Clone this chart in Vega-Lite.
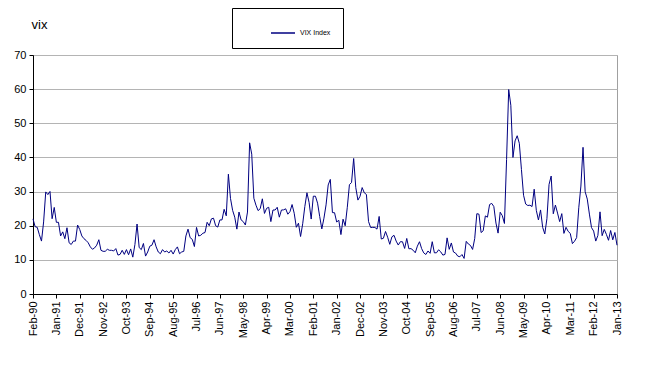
{
"$schema": "https://vega.github.io/schema/vega-lite/v6.json",
"width": 584, "height": 239,
"autosize": "none",
"padding": {"left": 33, "top": 55, "right": 28, "bottom": 82},
"background": "white",
"config": {"font": "Liberation Sans", "view": {"stroke": "#a0a0a0", "strokeWidth": 1}},
"data": {"values": [
{"m":"Feb-90","v":21.99},{"m":"Mar-90","v":19.73},{"m":"Apr-90","v":19.52},{"m":"May-90","v":17.37},{"m":"Jun-90","v":15.5},{"m":"Jul-90","v":21.11},{"m":"Aug-90","v":29.9},{"m":"Sep-90","v":29.11},{"m":"Oct-90","v":30.04},{"m":"Nov-90","v":22.05},{"m":"Dec-90","v":25.36},
{"m":"Jan-91","v":21.0},{"m":"Feb-91","v":21.0},{"m":"Mar-91","v":17.0},{"m":"Apr-91","v":18.2},{"m":"May-91","v":16.2},{"m":"Jun-91","v":19.4},{"m":"Jul-91","v":15.0},{"m":"Aug-91","v":14.5},{"m":"Sep-91","v":15.5},{"m":"Oct-91","v":15.5},{"m":"Nov-91","v":20.2},{"m":"Dec-91","v":18.9},
{"m":"Jan-92","v":17.0},{"m":"Feb-92","v":16.2},{"m":"Mar-92","v":15.7},{"m":"Apr-92","v":15.0},{"m":"May-92","v":13.8},{"m":"Jun-92","v":13.1},{"m":"Jul-92","v":13.5},{"m":"Aug-92","v":14.3},{"m":"Sep-92","v":15.9},{"m":"Oct-92","v":12.8},{"m":"Nov-92","v":12.5},{"m":"Dec-92","v":12.5},
{"m":"Jan-93","v":13.1},{"m":"Feb-93","v":12.8},{"m":"Mar-93","v":12.8},{"m":"Apr-93","v":12.6},{"m":"May-93","v":13.3},{"m":"Jun-93","v":11.4},{"m":"Jul-93","v":11.6},{"m":"Aug-93","v":12.8},{"m":"Sep-93","v":11.6},{"m":"Oct-93","v":13.0},{"m":"Nov-93","v":11.5},{"m":"Dec-93","v":13.2},
{"m":"Jan-94","v":10.8},{"m":"Feb-94","v":14.5},{"m":"Mar-94","v":20.5},{"m":"Apr-94","v":13.6},{"m":"May-94","v":13.0},{"m":"Jun-94","v":14.8},{"m":"Jul-94","v":11.1},{"m":"Aug-94","v":12.3},{"m":"Sep-94","v":14.0},{"m":"Oct-94","v":14.3},{"m":"Nov-94","v":15.9},{"m":"Dec-94","v":13.8},
{"m":"Jan-95","v":12.3},{"m":"Feb-95","v":11.8},{"m":"Mar-95","v":13.0},{"m":"Apr-95","v":12.3},{"m":"May-95","v":12.6},{"m":"Jun-95","v":12.0},{"m":"Jul-95","v":12.8},{"m":"Aug-95","v":11.7},{"m":"Sep-95","v":13.0},{"m":"Oct-95","v":13.8},{"m":"Nov-95","v":11.8},{"m":"Dec-95","v":12.3},
{"m":"Jan-96","v":12.5},{"m":"Feb-96","v":17.0},{"m":"Mar-96","v":19.0},{"m":"Apr-96","v":16.5},{"m":"May-96","v":16.0},{"m":"Jun-96","v":13.9},{"m":"Jul-96","v":19.5},{"m":"Aug-96","v":17.0},{"m":"Sep-96","v":17.2},{"m":"Oct-96","v":17.8},{"m":"Nov-96","v":18.0},{"m":"Dec-96","v":21.0},
{"m":"Jan-97","v":20.0},{"m":"Feb-97","v":22.0},{"m":"Mar-97","v":22.2},{"m":"Apr-97","v":20.0},{"m":"May-97","v":19.6},{"m":"Jun-97","v":21.7},{"m":"Jul-97","v":21.7},{"m":"Aug-97","v":24.8},{"m":"Sep-97","v":22.9},{"m":"Oct-97","v":35.09},{"m":"Nov-97","v":28.0},{"m":"Dec-97","v":24.5},
{"m":"Jan-98","v":22.5},{"m":"Feb-98","v":19.0},{"m":"Mar-98","v":24.0},{"m":"Apr-98","v":21.7},{"m":"May-98","v":21.2},{"m":"Jun-98","v":20.2},{"m":"Jul-98","v":24.0},{"m":"Aug-98","v":44.28},{"m":"Sep-98","v":40.95},{"m":"Oct-98","v":28.05},{"m":"Nov-98","v":26.01},{"m":"Dec-98","v":24.42},
{"m":"Jan-99","v":25.0},{"m":"Feb-99","v":27.88},{"m":"Mar-99","v":23.6},{"m":"Apr-99","v":25.1},{"m":"May-99","v":25.4},{"m":"Jun-99","v":21.2},{"m":"Jul-99","v":24.6},{"m":"Aug-99","v":24.6},{"m":"Sep-99","v":25.4},{"m":"Oct-99","v":22.5},{"m":"Nov-99","v":24.6},{"m":"Dec-99","v":24.64},
{"m":"Jan-00","v":24.95},{"m":"Feb-00","v":23.37},{"m":"Mar-00","v":24.11},{"m":"Apr-00","v":26.2},{"m":"May-00","v":23.65},{"m":"Jun-00","v":19.54},{"m":"Jul-00","v":20.74},{"m":"Aug-00","v":16.84},{"m":"Sep-00","v":20.57},{"m":"Oct-00","v":25.6},{"m":"Nov-00","v":29.65},{"m":"Dec-00","v":26.85},
{"m":"Jan-01","v":21.95},{"m":"Feb-01","v":28.64},{"m":"Mar-01","v":28.64},{"m":"Apr-01","v":26.6},{"m":"May-01","v":22.7},{"m":"Jun-01","v":19.06},{"m":"Jul-01","v":22.2},{"m":"Aug-01","v":26.1},{"m":"Sep-01","v":31.93},{"m":"Oct-01","v":33.56},{"m":"Nov-01","v":23.84},{"m":"Dec-01","v":23.8},
{"m":"Jan-02","v":21.09},{"m":"Feb-02","v":21.59},{"m":"Mar-02","v":17.4},{"m":"Apr-02","v":21.91},{"m":"May-02","v":19.98},{"m":"Jun-02","v":25.4},{"m":"Jul-02","v":32.03},{"m":"Aug-02","v":32.64},{"m":"Sep-02","v":39.69},{"m":"Oct-02","v":31.14},{"m":"Nov-02","v":27.5},{"m":"Dec-02","v":28.62},
{"m":"Jan-03","v":31.17},{"m":"Feb-03","v":29.63},{"m":"Mar-03","v":29.15},{"m":"Apr-03","v":21.21},{"m":"May-03","v":19.47},{"m":"Jun-03","v":19.52},{"m":"Jul-03","v":19.49},{"m":"Aug-03","v":19.0},{"m":"Sep-03","v":22.72},{"m":"Oct-03","v":16.1},{"m":"Nov-03","v":16.32},{"m":"Dec-03","v":18.31},
{"m":"Jan-04","v":16.63},{"m":"Feb-04","v":14.55},{"m":"Mar-04","v":16.74},{"m":"Apr-04","v":17.19},{"m":"May-04","v":15.5},{"m":"Jun-04","v":14.34},{"m":"Jul-04","v":15.32},{"m":"Aug-04","v":15.29},{"m":"Sep-04","v":13.34},{"m":"Oct-04","v":16.27},{"m":"Nov-04","v":13.24},{"m":"Dec-04","v":13.29},
{"m":"Jan-05","v":12.82},{"m":"Feb-05","v":12.08},{"m":"Mar-05","v":14.02},{"m":"Apr-05","v":15.31},{"m":"May-05","v":13.29},{"m":"Jun-05","v":12.04},{"m":"Jul-05","v":11.57},{"m":"Aug-05","v":12.6},{"m":"Sep-05","v":11.92},{"m":"Oct-05","v":15.32},{"m":"Nov-05","v":12.06},{"m":"Dec-05","v":12.07},
{"m":"Jan-06","v":12.95},{"m":"Feb-06","v":12.34},{"m":"Mar-06","v":11.39},{"m":"Apr-06","v":11.59},{"m":"May-06","v":16.44},{"m":"Jun-06","v":13.08},{"m":"Jul-06","v":14.95},{"m":"Aug-06","v":12.31},{"m":"Sep-06","v":11.98},{"m":"Oct-06","v":11.1},{"m":"Nov-06","v":10.91},{"m":"Dec-06","v":11.56},
{"m":"Jan-07","v":10.42},{"m":"Feb-07","v":15.42},{"m":"Mar-07","v":14.64},{"m":"Apr-07","v":14.22},{"m":"May-07","v":13.05},{"m":"Jun-07","v":16.23},{"m":"Jul-07","v":23.52},{"m":"Aug-07","v":23.38},{"m":"Sep-07","v":18.0},{"m":"Oct-07","v":18.53},{"m":"Nov-07","v":22.87},{"m":"Dec-07","v":22.5},
{"m":"Jan-08","v":26.2},{"m":"Feb-08","v":26.54},{"m":"Mar-08","v":25.61},{"m":"Apr-08","v":20.79},{"m":"May-08","v":17.83},{"m":"Jun-08","v":23.95},{"m":"Jul-08","v":22.94},{"m":"Aug-08","v":20.65},{"m":"Sep-08","v":39.39},{"m":"Oct-08","v":59.89},{"m":"Nov-08","v":55.28},{"m":"Dec-08","v":40.0},
{"m":"Jan-09","v":44.84},{"m":"Feb-09","v":46.35},{"m":"Mar-09","v":44.14},{"m":"Apr-09","v":36.5},{"m":"May-09","v":28.92},{"m":"Jun-09","v":26.35},{"m":"Jul-09","v":25.92},{"m":"Aug-09","v":26.01},{"m":"Sep-09","v":25.61},{"m":"Oct-09","v":30.69},{"m":"Nov-09","v":24.51},{"m":"Dec-09","v":21.68},
{"m":"Jan-10","v":24.62},{"m":"Feb-10","v":19.5},{"m":"Mar-10","v":17.59},{"m":"Apr-10","v":22.05},{"m":"May-10","v":32.07},{"m":"Jun-10","v":34.54},{"m":"Jul-10","v":23.5},{"m":"Aug-10","v":26.05},{"m":"Sep-10","v":23.7},{"m":"Oct-10","v":21.2},{"m":"Nov-10","v":23.54},{"m":"Dec-10","v":17.75},
{"m":"Jan-11","v":19.53},{"m":"Feb-11","v":18.35},{"m":"Mar-11","v":17.74},{"m":"Apr-11","v":14.75},{"m":"May-11","v":15.45},{"m":"Jun-11","v":16.52},{"m":"Jul-11","v":25.25},{"m":"Aug-11","v":31.62},{"m":"Sep-11","v":42.96},{"m":"Oct-11","v":29.96},{"m":"Nov-11","v":27.8},{"m":"Dec-11","v":23.4},
{"m":"Jan-12","v":19.44},{"m":"Feb-12","v":18.43},{"m":"Mar-12","v":15.5},{"m":"Apr-12","v":17.15},{"m":"May-12","v":24.06},{"m":"Jun-12","v":17.08},{"m":"Jul-12","v":18.93},{"m":"Aug-12","v":17.47},{"m":"Sep-12","v":15.73},{"m":"Oct-12","v":18.6},{"m":"Nov-12","v":15.87},{"m":"Dec-12","v":18.02},
{"m":"Jan-13","v":14.28}
]},
"mark": {"type": "line", "strokeWidth": 1, "interpolate": "linear"},
"encoding": {
"x": {"field": "m", "type": "ordinal", "sort": null, "scale": {"type": "point", "padding": 0},
 "axis": {"title": null, "values": ["Feb-90","Jan-91","Dec-91","Nov-92","Oct-93","Sep-94","Aug-95","Jul-96","Jun-97","May-98","Apr-99","Mar-00","Feb-01","Jan-02","Dec-02","Nov-03","Oct-04","Sep-05","Aug-06","Jul-07","Jun-08","May-09","Apr-10","Mar-11","Feb-12","Jan-13"],
 "labelAngle": -90, "labelFontSize": 11, "labelColor": "black", "domainColor": "black", "tickColor": "black", "tickSize": 4, "labelPadding": 3, "grid": false}},
"y": {"field": "v", "type": "quantitative", "scale": {"domain": [0, 70], "nice": false},
 "axis": {"values": [0,10,20,30,40,50,60,70], "title": "vix", "titleAngle": 0, "titleX": -2, "titleY": -27, "titleAlign": "left", "titleBaseline": "alphabetic", "titleFontWeight": "normal", "titleFontSize": 13, "titleColor": "black",
 "labelFontSize": 11, "labelColor": "black", "domainColor": "black", "tickColor": "black", "tickSize": 4, "labelPadding": 3, "gridColor": "#b4b4b4"}},
"color": {"datum": "VIX Index", "type": "nominal", "scale": {"range": ["#000080"]},
 "legend": {"title": null, "orient": "none", "legendX": 199, "legendY": -47, "strokeColor": "black", "fillColor": "white", "padding": 12, "symbolType": "stroke", "symbolSize": 576, "symbolStrokeWidth": 1.5, "symbolOffset": 26, "labelFontSize": 7, "labelColor": "black", "labelExpr": "datum.label + '          '"}}
}
}
